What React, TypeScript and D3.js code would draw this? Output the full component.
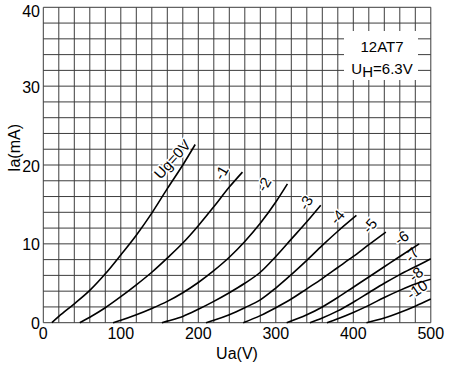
import { useEffect, useRef } from 'react';
import * as d3 from 'd3';

// anode characteristic curves, [Ua (V), Ia (mA)]
const ug0: [number, number][] = [[11, 0], [20, 0.8], [40, 2.4], [60, 4.1], [80, 6.2], [100, 8.6], [120, 11.1], [140, 13.9], [160, 17.0], [180, 20.0], [196, 22.6]];
const ug1: [number, number][] = [[47, 0], [60, 0.7], [80, 1.9], [100, 3.3], [120, 4.8], [140, 6.4], [160, 8.2], [180, 10.1], [200, 12.3], [220, 14.7], [240, 17.2], [257, 19.1]];
const ug2: [number, number][] = [[90, 0], [100, 0.3], [120, 1.0], [140, 1.8], [160, 2.7], [180, 3.8], [200, 5.1], [220, 6.6], [240, 8.3], [260, 10.3], [280, 12.6], [300, 15.3], [315, 17.6]];
const ug3: [number, number][] = [[153, 0], [160, 0.2], [180, 0.8], [200, 1.7], [220, 2.7], [240, 3.8], [260, 5.0], [280, 6.4], [300, 8.4], [320, 10.6], [340, 12.8], [358, 14.9]];
const ug4: [number, number][] = [[210, 0], [220, 0.3], [240, 1.0], [260, 1.9], [280, 2.9], [300, 4.4], [320, 6.1], [340, 7.9], [360, 9.8], [380, 11.6], [404, 13.6]];
const ug5: [number, number][] = [[258, 0], [280, 0.9], [300, 1.9], [320, 3.0], [340, 4.3], [360, 5.6], [380, 7.0], [400, 8.4], [420, 9.9], [442, 11.5]];
const ug6: [number, number][] = [[314, 0], [340, 1.0], [360, 2.0], [380, 3.2], [400, 4.5], [420, 5.8], [440, 7.1], [460, 8.4], [485, 10.0]];
const ug7: [number, number][] = [[344, 0], [360, 0.6], [380, 1.5], [400, 2.6], [420, 3.8], [440, 5.0], [460, 6.1], [480, 7.1], [500, 8.1]];
const ug8: [number, number][] = [[366, 0], [380, 0.5], [400, 1.3], [420, 2.2], [440, 3.2], [460, 4.1], [480, 4.9], [500, 5.5]];
const ug10: [number, number][] = [[417, 0], [440, 0.6], [460, 1.3], [480, 2.1], [500, 3.0]];

const curves = [ug0, ug1, ug2, ug3, ug4, ug5, ug6, ug7, ug8, ug10];
const curveLabels = ['Ug=0V', '-1', '-2', '-3', '-4', '-5', '-6', '-7', '-8', '-10'];

// where each label sits (data units) and its tilt
const labelAt: [number, number, number][] = [
  [170, 20.4, -48], [234, 18.8, -60], [289, 17.3, -60], [343, 15.0, -60], [383, 13.1, -50],
  [425, 12.0, -50], [465, 10.4, -35], [479, 8.3, -50], [484, 5.8, -40], [485, 3.8, -35],
];

const xTicks = [0, 100, 200, 300, 400, 500];
const yTicks = [0, 10, 20, 30, 40];

export default function App() {
  const svgRef = useRef<SVGSVGElement>(null);

  useEffect(() => {
    if (!svgRef.current) return;
    d3.select(svgRef.current).selectAll('*').remove();

    const width = 450;
    const height = 369;
    const font = '"Liberation Sans", Arial, sans-serif';

    const x = d3.scaleLinear().domain([0, 500]).range([43.3, 430.8]);
    const y = d3.scaleLinear().domain([0, 40]).range([322.7, 7.3]);

    const svg = d3.select(svgRef.current)
      .attr('width', width)
      .attr('height', height)
      .style('font-family', font);

    svg.append('rect').attr('width', width).attr('height', height).attr('fill', 'white');

    // grid: 20 V by 2 mA
    const grid = svg.append('g').attr('stroke', '#3c3c3c').attr('stroke-width', 1);
    grid.selectAll('line.v')
      .data(d3.range(0, 501, 20))
      .join('line')
      .attr('class', 'v')
      .attr('x1', (d) => x(d)).attr('x2', (d) => x(d))
      .attr('y1', y(0)).attr('y2', y(40));
    grid.selectAll('line.h')
      .data(d3.range(0, 41, 2))
      .join('line')
      .attr('class', 'h')
      .attr('x1', x(0)).attr('x2', x(500))
      .attr('y1', (d) => y(d)).attr('y2', (d) => y(d));

    // type box
    svg.append('rect')
      .attr('x', 344).attr('y', 31).attr('width', 74).attr('height', 49)
      .attr('fill', 'white');
    svg.append('text')
      .attr('x', 382).attr('y', 52)
      .attr('text-anchor', 'middle')
      .attr('font-size', 15)
      .text('12AT7');
    const uh = svg.append('text')
      .attr('x', 382).attr('y', 74)
      .attr('text-anchor', 'middle')
      .attr('font-size', 15);
    uh.append('tspan').text('U');
    uh.append('tspan').attr('dy', 3).text('H');
    uh.append('tspan').attr('dy', -3).text('=6.3V');

    // labels go under the curves; white halo knocks out the grid behind them
    svg.append('g')
      .selectAll('text')
      .data(curveLabels)
      .join('text')
      .attr('transform', (d, i) => `translate(${x(labelAt[i][0])},${y(labelAt[i][1])}) rotate(${labelAt[i][2]})`)
      .attr('text-anchor', 'middle')
      .attr('dy', -4)
      .attr('dominant-baseline', 'central')
      .attr('font-size', 15)
      .attr('stroke', 'white')
      .attr('stroke-width', 3)
      .attr('paint-order', 'stroke')
      .text((d) => d);

    // curves
    const line = d3.line<[number, number]>()
      .x((d) => x(d[0]))
      .y((d) => y(d[1]))
      .curve(d3.curveMonotoneX);
    svg.append('g')
      .selectAll('path')
      .data(curves)
      .join('path')
      .attr('d', line)
      .attr('fill', 'none')
      .attr('stroke', 'black')
      .attr('stroke-width', 1.6);

    // tick labels
    svg.append('g')
      .selectAll('text')
      .data(xTicks)
      .join('text')
      .attr('x', (d) => x(d))
      .attr('y', 339)
      .attr('text-anchor', 'middle')
      .attr('font-size', 16)
      .text((d) => d);
    svg.append('g')
      .selectAll('text')
      .data(yTicks)
      .join('text')
      .attr('x', 40)
      .attr('y', (d) => (d === 40 ? y(d) + 4.5 : y(d) + 1))
      .attr('text-anchor', 'end')
      .attr('dominant-baseline', 'central')
      .attr('font-size', 16)
      .text((d) => d);

    // axis titles
    svg.append('text')
      .attr('x', 237).attr('y', 359)
      .attr('text-anchor', 'middle')
      .attr('font-size', 16)
      .text('Ua(V)');
    svg.append('text')
      .attr('transform', 'translate(20,148) rotate(-90)')
      .attr('text-anchor', 'middle')
      .attr('font-size', 16)
      .text('Ia(mA)');
  }, []);

  return (
    <div style={{ position: 'absolute', left: 0, top: 0 }}>
      <svg ref={svgRef}></svg>
    </div>
  );
}
